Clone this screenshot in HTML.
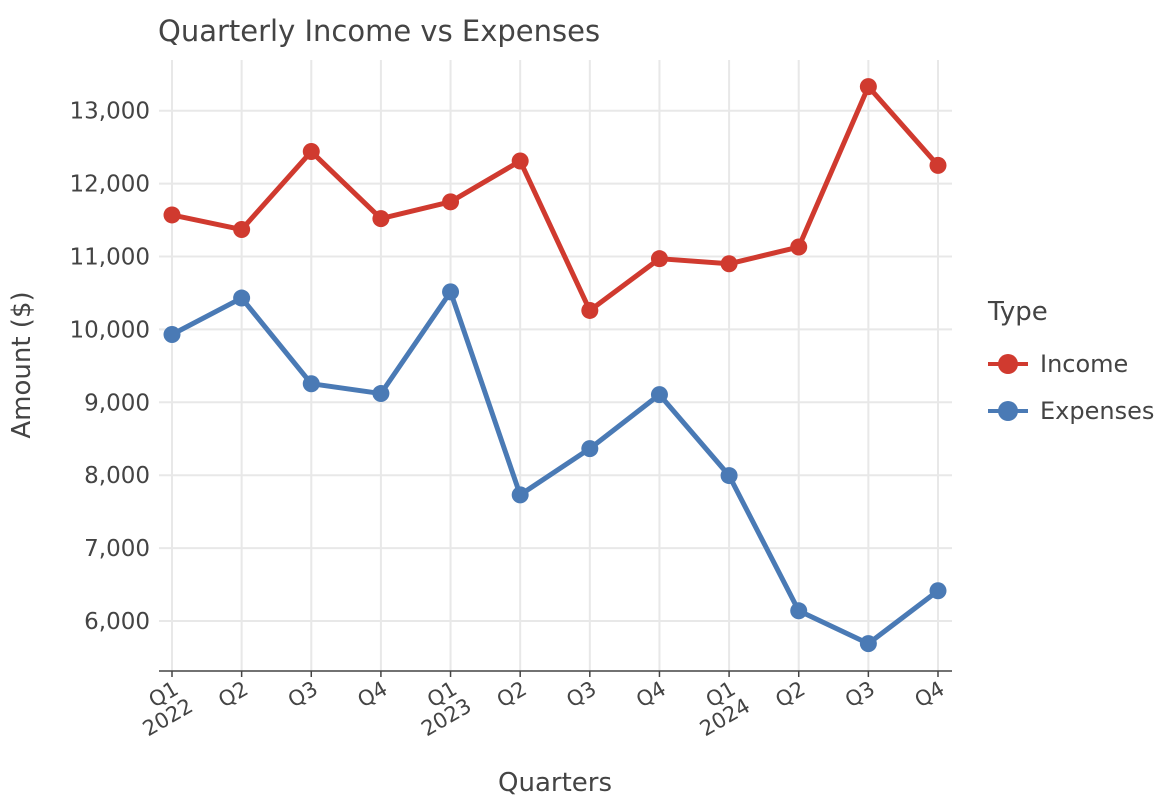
<!DOCTYPE html>
<html><head><meta charset="utf-8"><style>
body{margin:0;background:#fff;}
svg{font-family:"DejaVu Sans","Liberation Sans",sans-serif;}
</style></head><body>
<svg id="chart" width="1168" height="804">
<text x="158" y="41" font-size="29" fill="#444">Quarterly Income vs Expenses</text>
<g id="grid"></g>
<g id="axes"></g>
<g id="series"></g>
<text transform="translate(30,365) rotate(-90)" text-anchor="middle" font-size="26" fill="#444">Amount ($)</text>
<text x="555" y="791" text-anchor="middle" font-size="26" fill="#444">Quarters</text>
<g>
<text x="988" y="320" font-size="26" fill="#444">Type</text>
<g><line x1="988" y1="364" x2="1028" y2="364" stroke="#d03a2f" stroke-width="4"/><circle cx="1008" cy="364" r="10" fill="#d03a2f"/><text x="1040" y="372" font-size="24" fill="#444">Income</text></g>
<g><line x1="988" y1="411" x2="1028" y2="411" stroke="#4a7ab5" stroke-width="4"/><circle cx="1008" cy="411" r="10" fill="#4a7ab5"/><text x="1040" y="419" font-size="24" fill="#444">Expenses</text></g>
</g>
</svg>
<script>
const quarters=["Q1","Q2","Q3","Q4","Q1","Q2","Q3","Q4","Q1","Q2","Q3","Q4"];
const years=["2022","","","","2023","","","","2024","","",""];
const income=[11570,11370,12440,11520,11750,12310,10260,10970,10900,11130,13330,12250];
const expenses=[9930,10430,9255,9120,10515,7730,8365,9105,7995,6140,5690,6415];
const yTicks=[6000,7000,8000,9000,10000,11000,12000,13000];
const ns="http://www.w3.org/2000/svg";
const x=i=>172+i*(938-172)/11;
const y=v=>621-(v-6000)*72.9/1000;
function mk(t,a,p){const e=document.createElementNS(ns,t);for(const k in a)e.setAttribute(k,a[k]);p.appendChild(e);return e;}
const grid=document.getElementById('grid'),axes=document.getElementById('axes'),ser=document.getElementById('series');
yTicks.forEach(v=>{
 const l=mk('line',{x1:159,x2:952,y1:y(v),y2:y(v),stroke:'#e8e8e8','stroke-width':2},grid);
 
 
 const t=mk('text',{x:150,y:y(v)+8,'text-anchor':'end','font-size':23,fill:'#444'},axes);
 t.textContent=v.toLocaleString('en-US');
 
 
});
quarters.forEach((q,i)=>{
 const l=mk('line',{x1:x(i),x2:x(i),y1:60,y2:671,stroke:'#e8e8e8','stroke-width':2},grid);
 
 
 mk('line',{x1:x(i),x2:x(i),y1:671,y2:677,stroke:'#444','stroke-width':1.5},axes);
 const t=mk('text',{transform:`translate(${x(i)+8},${693}) rotate(-30)`,'text-anchor':'end','font-size':21,fill:'#444'},axes);
 
 
 const s1=mk('tspan',{x:0,dy:0},t);s1.textContent=q;
 if(years[i]){const s2=mk('tspan',{x:4,dy:22},t);s2.textContent=years[i];}
});
const ax=mk('line',{x1:159,x2:952,y1:671,y2:671,stroke:'#444','stroke-width':1.5},axes);


function draw(data,color,name){
 const p=mk('polyline',{points:data.map((v,i)=>x(i)+','+y(v)).join(' '),fill:'none',stroke:color,'stroke-width':5,'stroke-linejoin':'round'},ser);
 
 
 data.forEach((v,i)=>{
  const c=mk('circle',{cx:x(i),cy:y(v),r:8.5,fill:color},ser);
  
  
 });
}
draw(income,'#d03a2f','income');
draw(expenses,'#4a7ab5','expenses');
</script>
</body></html>
